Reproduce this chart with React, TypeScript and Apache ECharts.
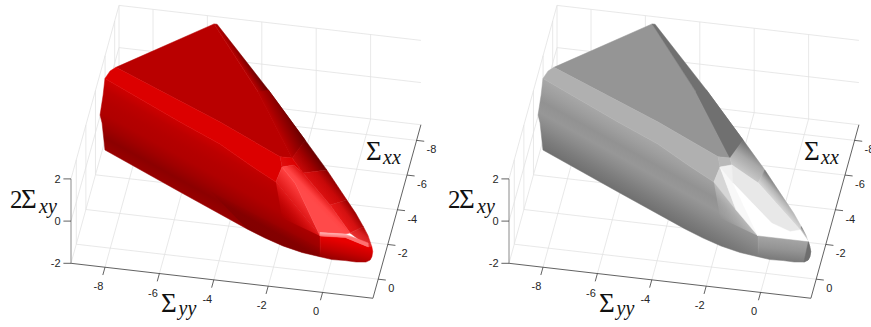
import React, { useEffect, useRef } from "react";
import * as echarts from "echarts";

const yyTicks = [-8, -6, -4, -2, 0];
const xxTicks = [-8, -6, -4, -2, 0];
const zTicks = [-2, 0, 2];
const yyRange = [-9.25, 1.85];
const xxRange = [1.1, -8.9];
const zRange = [-2, 2];

// surface vertices: [Σyy, Σxx, 2Σxy]
const V: Record<string, number[]> = {
  a: [-5.68, -8.48, 2], a2: [-5.57, -8.48, 2], b: [-8.75, -5.42, 2], b2: [-8.92, -5.18, 2], c0: [-9.03, -4.73, 2],
  t3: [-3.44, -4.96, 2], t4: [-1.58, -1.5, 2], bu1: [-4.5, -3.04, 2], bu2: [-2.02, -1.49, 2],
  bl1: [-5.93, -2.78, 2], bl2: [-4.29, -1.81, 2], bl3: [-3.01, -0.83, 2], n6: [-1.92, -0.05, 2],
  l2a: [-9.14, -4.97, 1], l2c: [-1.06, 0.19, 1],
  d: [-9.26, -5.01, 0], n3: [-0.23, 0.32, 0],
  l4a: [-9.11, -4.58, 0], l4b: [-4.59, -1.48, 0], l4c: [-0.11, 0.99, 0],
  e: [-8.74, -3.09, 0], o13: [-5.65, -1.23, 0], o12: [-2.9, 0.4, 0], o1112: [-2.17, 0.79, 0], o11: [-1.45, 1.12, 0],
  o1011: [-0.71, 1.36, 0], o10: [-0.03, 1.48, 0], o910: [0.43, 1.56, 0], o9: [0.9, 1.53, 0], o89: [1.31, 1.54, 0],
  o8: [1.66, 1.48, 0], o78: [1.79, 1.34, 0], o7: [1.82, 1.14, 0], o67: [1.8, 0.85, 0], o6: [1.72, 0.585, 0],
  o56: [1.47, -0.02, 0], o5: [1.22, -0.48, 0], o45: [0.81, -1.19, 0],
  o4: [0.37, -1.86, 0], o3: [-0.64, -3.41, 0], o2: [-1.71, -4.94, 0], o1: [-3.51, -7.5, 0],
  n1: [-1.85, -0.93, 2], n7: [-1.45, -1.12, 2], n2: [-1.22, -0.11, 2], n8: [-0.75, -2.64, 0], n9: [0.13, -0.48, 0],
  n10: [0.87, -0.13, 0], n5: [1.21, -0.29, 0], n4: [1.62, 0.32, 0],
  r1: [-1.46, -3.09, 0], r2: [-0.18, -1.47, 0], r3: [0.81, -0.04, 0], r4: [1.6, 0.62, 0],
  h1: [-0.27, 0.13, 0], h2: [0.64, 0.05, 0], h3: [1.55, 0.4, 0], h4: [0.68, 0.24, 0],
  s1: [-1.76, -0.44, 0],
};

type Facet = { v: string; along?: string; across?: string };
const F = (v: string, along?: string, across?: string): Facet => ({ v, along, across });

const frontOutline = "o6 o67 o7 o78 o8 o89 o9 o910 o10";
const sharedFacets: Facet[] = [
  F("a b bu1 bu2 t4 t3"),
  F("c0 bl1 bl2 bl3 n6 n3 l4c o10 o1011 o11 o1112 o12 o13 e l4a d l2a", "e o12", "c0 e"),
  F("b bu1 bu2 n1 n6 bl3 bl2 bl1 c0 b2"),
  F("a t3 t4 o2 o1 a2", "a t3", "t3 o1"),
  F("t3 t4 o2 o1", "t3 t4", "t4 o2"),
];
const sharedRed = [
  ["#b90000"],
  ["#cf0000", "#bc0000", "#b40000", "#b00000", "#a00000", "#8c0000", "#980000"],
  ["#dc0000"],
  ["#b90000", "#8c0000", "#640000"],
  ["#b90000", "#900000", "#660000"],
];
const sharedGrey = [
  ["#959595"],
  ["#a8a8a8", "#9e9e9e", "#929292", "#979797", "#8a8a8a", "#7c7c7c", "#707070"],
  ["#b0b0b0"],
  ["#707070"],
  ["#707070"],
];

const redFacets: Facet[] = [
  ...sharedFacets,
  F("l4b l4c o10 o1011 o11 o1112 o12", "l4b l4c", "l4b o12"),
  F("t4 r1 o3 o2", "t4 r1", "t4 o2"),
  F("r1 r2 o4 o3", "r1 r2", "r1 o3"),
  F("r2 r3 o5 o45 o4", "r2 r3", "r2 o4"),
  F("r3 r4 o6 o56 o5", "r3 r4", "r3 o5"),
  F("t4 bu2 n1 n7 r1", "t4 r1", "t4 n1"),
  F("n6 n3 s1", "n6 n3", "n6 s1"),
  F("n6 n1 n2 n3", "n6 n3", "n6 n2"),
  F("n1 n7 r1 r2 r3 h2 h1 n3 n2", "n2 n9", "n2 r1"),
  F(`n3 h4 r4 ${frontOutline} l4c`, "n3 r4", "n3 o10"),
  F("h1 h2 h3 r4 h4 n3", "h1 h2", "h1 n3"),
];
const redShades = [
  ...sharedRed,
  ["rgba(100,0,0,0.05)", "rgba(100,0,0,0.45)"],
  ["#c80808", "#a00000", "#680000"],
  ["#dc1010", "#c80808", "#8a0000"],
  ["#e81818", "#d41010", "#980000"],
  ["#e83030", "#d82020", "#aa0000"],
  ["#dc0000", "#e01010"],
  ["rgba(225,24,24,1)", "rgba(200,0,0,0)"],
  ["#e01818", "#ff4040"],
  ["#ff4a4a", "#ff4444", "#f02c2c", "#dc1010"],
  ["#e80000", "#c40000", "#960000"],
  ["#ffb0b0", "#ff7070"],
];

const greyFacets: Facet[] = [
  ...sharedFacets,
  F("bu2 n1 n7 t4", "bu2 t4", "bu2 n1"),
  F("t4 n7 n8 o3 o2", "n7 n8", "n7 o2"),
  F("n8 n5 o5 o45 o4 o3", "n8 n5", "n8 o3"),
  F("n5 n4 o6 o56 o5", "n5 n4", "n5 o5"),
  F("n6 n3 s1", "n6 n3", "n6 s1"),
  F("n6 n1 l2c"),
  F("n1 n2 n3 l2c"),
  F("n7 n1 n2"),
  F("n7 n8 n5 n10 n9 n2"),
  F("n2 n9 n10 n5 n4 n3"),
  F(`n3 n4 ${frontOutline} l4c`, "n3 n4", "n3 o10"),
  F("n4 o6 o67 o7 o78 o8"),
];
const greyShades = [
  ...sharedGrey,
  ["#b8b8b8"],
  ["#c8c8c8", "#a8a8a8", "#707070"],
  ["#d8d8d8", "#b4b4b4", "#747474"],
  ["#e0e0e0", "#b0b0b0", "#6a6a6a"],
  ["rgba(190,190,190,0.9)", "rgba(170,170,170,0)"],
  ["#d6d6d6"],
  ["#f8f8f8"],
  ["#f0f0f0"],
  ["#e8e8e8"],
  ["#ffffff"],
  ["#a4a4a4", "#949494", "#7c7c7c"],
  ["#6e6e6e"],
];

const panelOrigins = [[71, 263.3], [509, 263.3]];

function project(panel: number, yy: number, xx: number, z: number) {
  const [ox, oy] = panelOrigins[panel];
  const u = yy - yyRange[0];
  const v = xxRange[0] - xx;
  return [ox + 27.2 * u + 4.8 * v, oy + 3.15 * u - 17.35 * v - 21.1 * (z - zRange[0])];
}

function surfaceItem(panel: number, facets: Facet[], shades: string[][]) {
  return (params: any, api: any) => {
    const i = params.dataIndex;
    const f = facets[i];
    const toPx = (name: string) => {
      const p = V[name];
      return api.coord(project(panel, p[0], p[1], p[2]));
    };
    const pts = f.v.split(" ").map(toPx);
    const cols = shades[i];
    let fill: any = cols[0];
    if (cols.length > 1) {
      const al = f.along ? f.along.split(" ").map(toPx) : [pts[0], pts[1]];
      const ac = f.across ? f.across.split(" ").map(toPx) : [pts[0], pts[pts.length - 1]];
      const dx = al[1][0] - al[0][0];
      const dy = al[1][1] - al[0][1];
      const len = Math.hypot(dx, dy) || 1;
      const nx = -dy / len;
      const ny = dx / len;
      const d = (ac[1][0] - ac[0][0]) * nx + (ac[1][1] - ac[0][1]) * ny;
      fill = new echarts.graphic.LinearGradient(
        ac[0][0], ac[0][1], ac[0][0] + nx * d, ac[0][1] + ny * d,
        cols.map((color, k) => ({ offset: k / (cols.length - 1), color })), true as any
      );
    }
    const translucent = cols[0].startsWith("rgba");
    return {
      type: "polygon",
      shape: { points: pts },
      style: translucent ? { fill } : { fill, stroke: fill, lineWidth: 0.5 },
      silent: true,
    };
  };
}

function frameItem(params: any, api: any) {
  const panel = params.dataIndex;
  const P = (yy: number, xx: number, z: number) => api.coord(project(panel, yy, xx, z));
  const line = (a: number[], b: number[], stroke: string, lineWidth: number) => ({
    type: "line",
    shape: { x1: a[0], y1: a[1], x2: b[0], y2: b[1] },
    style: { stroke, lineWidth },
    silent: true,
  });
  const grid = "#e2e2e2";
  const gw = 0.8;
  const [y0, y1] = yyRange;
  const [x0, x1] = xxRange;
  const [z0, z1] = zRange;
  const children: any[] = [];
  for (const t of yyTicks) {
    children.push(line(P(t, x0, z0), P(t, x1, z0), grid, gw));
    children.push(line(P(t, x1, z0), P(t, x1, z1), grid, gw));
  }
  for (const t of xxTicks) {
    children.push(line(P(y0, t, z0), P(y1, t, z0), grid, gw));
    children.push(line(P(y0, t, z0), P(y0, t, z1), grid, gw));
  }
  for (const t of zTicks) {
    children.push(line(P(y0, x0, t), P(y0, x1, t), grid, gw));
    children.push(line(P(y0, x1, t), P(y1, x1, t), grid, gw));
  }
  children.push(line(P(y0, x1, z0), P(y0, x1, z1), grid, gw));
  return { type: "group", children };
}

function axesItem(params: any, api: any) {
  const panel = params.dataIndex;
  const P = (yy: number, xx: number, z: number) => api.coord(project(panel, yy, xx, z));
  const line = (a: number[], b: number[], stroke: string, lineWidth: number) => ({
    type: "line",
    shape: { x1: a[0], y1: a[1], x2: b[0], y2: b[1] },
    style: { stroke, lineWidth },
    silent: true,
  });
  const label = (text: string, x: number, y: number, align: string) => ({
    type: "text",
    style: { text, x, y, fill: "#262626", font: "11px 'Liberation Sans'", align, verticalAlign: "middle" },
    silent: true,
  });
  const math = (text: string, x: number, y: number, size: number, italic: boolean) => ({
    type: "text",
    style: {
      text, x, y, fill: "#111111",
      font: `${italic ? "italic " : ""}${size}px 'Liberation Serif'`,
      align: "left", verticalAlign: "middle",
    },
    silent: true,
  });
  const ink = "#3a3a3a";
  const [y0, y1] = yyRange;
  const [x0, x1] = xxRange;
  const [z0, z1] = zRange;
  const children: any[] = [];
  children.push(line(P(y0, x0, z0), P(y1, x0, z0), ink, 0.8));
  children.push(line(P(y1, x0, z0), P(y1, x1, z0), ink, 0.8));
  children.push(line(P(y0, x0, z0), P(y0, x0, z1), "#8a8a8a", 1));
  for (const t of yyTicks) {
    const a = P(t, x0, z0);
    children.push(line(a, P(t, x0 + 0.45, z0), ink, 0.8));
    children.push(label(String(t), a[0] - 6.5, a[1] + 19, "center"));
  }
  for (const t of xxTicks) {
    const a = P(y1, t, z0);
    children.push(line(a, P(y1 + 0.28, t, z0), ink, 0.8));
    children.push(label(String(t), a[0] + 10, a[1] + 9, "left"));
  }
  for (const t of zTicks) {
    const a = P(y0, x0, t);
    children.push(line(a, [a[0] - 7.6, a[1]], ink, 0.8));
    children.push(label(String(t), a[0] - 10.5, a[1], "right"));
  }
  const o = P(y0, x0, z0);
  children.push(math("Σ", o[0] + 90, o[1] + 40, 27, false));
  children.push(math("yy", o[0] + 107.5, o[1] + 45, 20, true));
  children.push(math("2", o[0] - 61, o[1] - 64, 25, false));
  children.push(math("Σ", o[0] - 50, o[1] - 64, 27, false));
  children.push(math("xy", o[0] - 32, o[1] - 57, 20, true));
  children.push(math("Σ", o[0] + 295, o[1] - 112, 27, false));
  children.push(math("xx", o[0] + 312, o[1] - 106, 20, true));
  return { type: "group", children };
}

const indexData = (n: number) => Array.from({ length: n }, (_, i) => [i]);

export default function App() {
  const ref = useRef<HTMLDivElement>(null);
  useEffect(() => {
    document.body.style.margin = "0";
    const chart = echarts.init(ref.current!, undefined, { renderer: "svg" });
    chart.setOption({
      animation: false,
      backgroundColor: "#ffffff",
      grid: { left: 0, right: 0, top: 0, bottom: 0 },
      xAxis: { type: "value", min: 0, max: 871, show: false },
      yAxis: { type: "value", min: 0, max: 327, inverse: true, show: false },
      series: [
        { type: "custom", name: "frame", coordinateSystem: "cartesian2d", clip: false, silent: true, data: indexData(2), renderItem: frameItem, z: 1 },
        { type: "custom", name: "red surface", coordinateSystem: "cartesian2d", clip: false, silent: true, data: indexData(redFacets.length), renderItem: surfaceItem(0, redFacets, redShades), z: 2 },
        { type: "custom", name: "grey surface", coordinateSystem: "cartesian2d", clip: false, silent: true, data: indexData(greyFacets.length), renderItem: surfaceItem(1, greyFacets, greyShades), z: 2 },
        { type: "custom", name: "axes", coordinateSystem: "cartesian2d", clip: false, silent: true, data: indexData(2), renderItem: axesItem, z: 3 },
      ],
    });
    return () => chart.dispose();
  }, []);
  return <div ref={ref} style={{ width: 871, height: 327 }} />;
}
